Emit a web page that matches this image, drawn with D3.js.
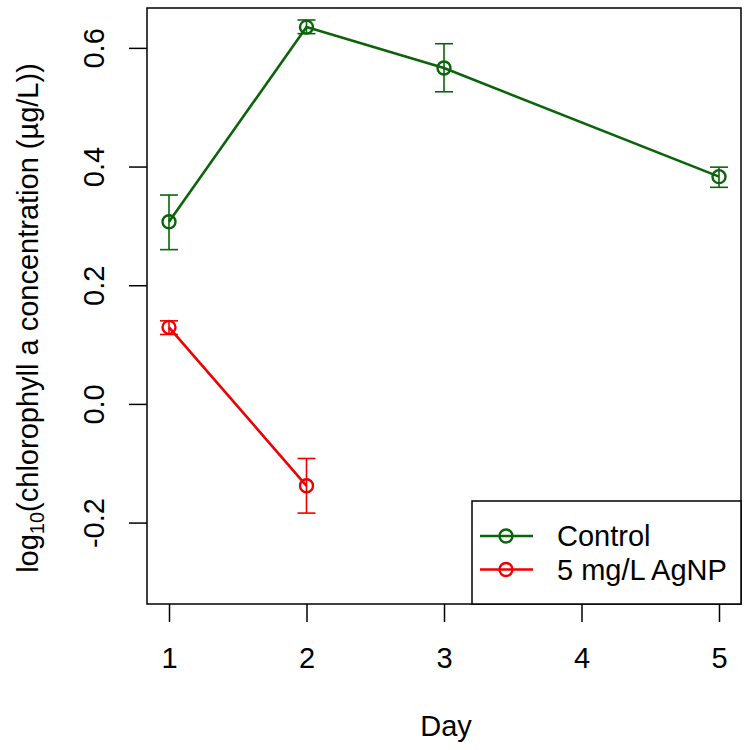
<!DOCTYPE html>
<html><head><meta charset="utf-8">
<script src="https://cdn.jsdelivr.net/npm/d3@7"></script>
<style>body{margin:0;background:#fff}text{font-family:"Liberation Sans",Arial,sans-serif}</style>
</head><body>
<svg id="c" width="751" height="750"></svg>
<script>
const days = [1, 2, 3, 5];
const controlMean = [0.307, 0.635, 0.566, 0.383];
const controlUpper = [0.352, 0.647, 0.607, 0.399];
const controlLower = [0.260, 0.624, 0.526, 0.365];
const agDays = [1, 2];
const agMean = [0.129, -0.138];
const agUpper = [0.140, -0.092];
const agLower = [0.117, -0.184];
const xTicks = [1, 2, 3, 4, 5];
const yTicks = [-0.2, 0.0, 0.2, 0.4, 0.6];
const yTickLabels = ["-0.2", "0.0", "0.2", "0.4", "0.6"];
const seriesNames = ["Control", "5 mg/L AgNP"];
const seriesColors = ["#0b640b", "#ee0000"];

const FS = 29;
const svg = d3.select("#c");
const L = 147, R = 741, T = 8, B = 604;
const x = d3.scaleLinear().domain([0.84, 5.16]).range([L, R]);
const y = d3.scaleLinear().domain([-0.3372, 0.6672]).range([B, T]);

// axes
const xa = svg.append("g").attr("transform", `translate(0,${B})`)
  .call(d3.axisBottom(x).tickValues(xTicks).tickSize(18).tickFormat(d3.format("d")));
const ya = svg.append("g").attr("transform", `translate(${L},0)`)
  .call(d3.axisLeft(y).tickValues(yTicks).tickSize(18).tickFormat((d, i) => yTickLabels[i]));
[xa, ya].forEach(a => {
  a.select(".domain").remove();
  a.attr("font-size", null).attr("font-family", null);
  a.selectAll("line").attr("stroke", "#000").attr("stroke-width", 1.5);
});
xa.selectAll("text").attr("font-size", FS).attr("fill", "#000").attr("y", 64).attr("dy", 0);
ya.selectAll("text").attr("font-size", FS).attr("fill", "#000")
  .attr("transform", "translate(-43,0) rotate(-90)")
  .attr("x", 0).attr("y", 0).attr("dy", 0).attr("text-anchor", "middle");

svg.append("rect").attr("x", L).attr("y", T).attr("width", R - L).attr("height", B - T)
  .attr("fill", "none").attr("stroke", "#000").attr("stroke-width", 1.5);

svg.append("text").attr("x", (L + R) / 2 + 2).attr("y", 736).attr("text-anchor", "middle")
  .attr("font-size", FS).text("Day");
const yt = svg.append("text").attr("transform", `translate(38,318) rotate(-90)`)
  .attr("text-anchor", "middle").attr("font-size", FS);
yt.append("tspan").text("log");
yt.append("tspan").attr("font-size", 20).attr("dy", 6).text("10");
yt.append("tspan").attr("dy", -6).text("(chlorophyll a concentration (\u00b5g/L))");

function drawSeries(xs, m, up, lo, col) {
  const g = svg.append("g");
  const line = d3.line().x((d, i) => x(xs[i])).y(d => y(d));
  g.append("path").attr("d", line(m)).attr("fill", "none").attr("stroke", col).attr("stroke-width", 2.6);
  xs.forEach((d, i) => {
    const cx = x(d);
    g.append("line").attr("x1", cx).attr("x2", cx).attr("y1", y(up[i])).attr("y2", y(lo[i]))
      .attr("stroke", col).attr("stroke-width", 1.6);
    [up[i], lo[i]].forEach(v => g.append("line").attr("x1", cx - 9).attr("x2", cx + 9)
      .attr("y1", y(v)).attr("y2", y(v)).attr("stroke", col).attr("stroke-width", 1.6));
    g.append("circle").attr("cx", cx).attr("cy", y(m[i])).attr("r", 6.5)
      .attr("fill", "none").attr("stroke", col).attr("stroke-width", 2.4);
  });
}
drawSeries(days, controlMean, controlUpper, controlLower, seriesColors[0]);
drawSeries(agDays, agMean, agUpper, agLower, seriesColors[1]);

// legend
const lg = svg.append("g");
lg.append("rect").attr("x", 472).attr("y", 501).attr("width", R - 472).attr("height", B - 501)
  .attr("fill", "#fff").attr("stroke", "#000").attr("stroke-width", 1.5);
seriesNames.forEach((n, i) => {
  const yy = 536 + i * 33.5;
  lg.append("line").attr("x1", 480).attr("x2", 533).attr("y1", yy).attr("y2", yy)
    .attr("stroke", seriesColors[i]).attr("stroke-width", 2.6);
  lg.append("circle").attr("cx", 506).attr("cy", yy).attr("r", 6.5).attr("fill", "none")
    .attr("stroke", seriesColors[i]).attr("stroke-width", 2.4);
  lg.append("text").attr("x", 557).attr("y", yy + 10).attr("font-size", FS).text(n);
});
</script>
</body></html>
